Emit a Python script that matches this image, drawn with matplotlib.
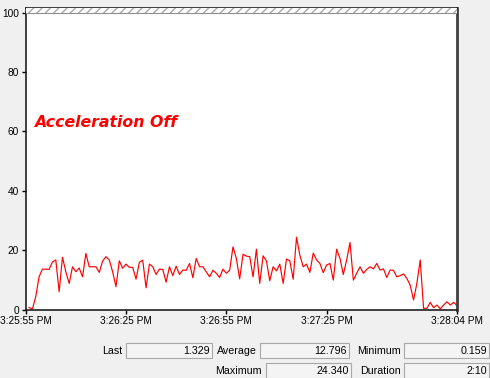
import numpy as np
import matplotlib
matplotlib.use("Agg")
import matplotlib.pyplot as plt
from matplotlib.patches import Rectangle

# --- counter samples (one per second, 3:25:55 PM start) ---
values = [
    0.7, 0.16, 4.3, 11.0, 13.6, 13.6, 13.5, 16.0, 16.7, 6.0,
    17.6, 12.7, 8.8, 14.4, 12.7, 14.0, 11.0, 18.9, 14.4, 14.4,
    14.4, 12.5, 16.3, 17.8, 16.7, 12.7, 7.7, 16.4, 13.9, 15.3,
    14.2, 14.2, 10.2, 15.9, 16.6, 7.3, 15.3, 14.4, 11.8, 13.6,
    13.5, 9.2, 14.4, 11.4, 14.6, 11.8, 13.3, 13.2, 15.5, 10.7,
    17.2, 14.4, 14.4, 12.7, 11.0, 13.2, 12.2, 10.8, 13.6, 12.2,
    13.2, 21.1, 17.2, 10.3, 18.6, 18.0, 17.8, 11.0, 20.3, 8.8,
    18.1, 16.4, 9.7, 14.4, 13.0, 15.3, 8.8, 17.0, 16.4, 10.2,
    24.34, 18.3, 14.4, 15.3, 12.5, 19.0, 16.7, 15.5, 12.4, 15.0,
    15.5, 9.9, 20.3, 17.2, 11.8, 16.7, 22.6, 9.9, 12.2, 14.4,
    12.2, 13.5, 14.4, 13.7, 15.5, 13.3, 13.7, 10.8, 13.3, 13.2,
    11.0, 11.4, 12.0, 10.5, 8.2, 3.2, 8.8, 16.7, 0.4, 0.4,
    2.4, 0.6, 1.5, 0.2, 1.5, 2.6, 1.5, 2.4, 1.329,
]
seconds = np.arange(1, len(values) + 1)

tick_secs = [0, 30, 60, 90, 129]
tick_labels = ["3:25:55 PM", "3:26:25 PM", "3:26:55 PM", "3:27:25 PM", "3:28:04 PM"]

stat_names = ["Last", "Average", "Minimum", "Maximum", "Duration"]
stat_values = ["1.329", "12.796", "0.159", "24.340", "2:10"]

W, H = 490, 378
BG = "#f0f0f0"
FONT = "Liberation Sans"
FS = 7.3

fig = plt.figure(figsize=(W / 100, H / 100), dpi=100, facecolor=BG)

# plot area in pixels
x0, x1, y_top, y_zero, y_hundred = 25.7, 457.0, 8.0, 309.5, 12.7
ax = fig.add_axes([x0 / W, (H - y_zero) / H, (x1 - x0) / W, (y_zero - y_top) / H])
ax.set_facecolor("white")
ymax = 100 * (y_zero - y_top) / (y_zero - y_hundred)

ax.plot(seconds, values, color="#ff0000", lw=0.85)

# hatched strip above 100
ax.add_patch(Rectangle((0, 100), 129, ymax - 100, facecolor="white",
                       edgecolor="#a8a8a8", hatch="////", lw=0, zorder=3))
ax.axhline(100, color="#909090", lw=0.8, zorder=4)

ax.set_xlim(0, 129)
ax.set_ylim(0, ymax)
ax.set_yticks([0, 20, 40, 60, 80, 100])
ax.set_xticks(tick_secs)
ax.set_xticklabels(tick_labels)
ax.tick_params(direction="out", length=3, width=1, labelsize=FS, pad=2,
               colors="black")
for lab in ax.get_xticklabels() + ax.get_yticklabels():
    lab.set_family(FONT)

for side in ["left", "bottom", "top"]:
    ax.spines[side].set_color("#202020")
    ax.spines[side].set_linewidth(1.2)
ax.spines["right"].set_color("#404040")
ax.spines["right"].set_linewidth(2)

ax.text(0.02, 0.62, "Acceleration Off", transform=ax.transAxes, color="#ff0000",
        fontsize=11.3, fontweight="bold", fontstyle="italic",
        family="DejaVu Sans", va="center", ha="left")


# --- statistics boxes under the chart ---
def px_rect(left, top, right, bottom):
    r = Rectangle((left / W, 1 - bottom / H), (right - left) / W, (bottom - top) / H,
                  transform=fig.transFigure, facecolor="#f4f4f4",
                  edgecolor="#a8a8a8", lw=0.8)
    fig.add_artist(r)


# (label right x, box left, box right, top, bottom)
boxes = [
    (122, 126, 212, 343, 358),
    (257, 260, 349, 343, 358),
    (401, 404, 489, 343, 358),
    (262, 266, 351, 363, 378),
    (401, 404, 489, 363, 378),
]
for name, val, (lx, bl, br, bt, bb) in zip(stat_names, stat_values, boxes):
    px_rect(bl, bt, br, bb)
    yc = 1 - (bt + bb) / 2 / H
    fig.text(lx / W, yc, name, ha="right", va="center", fontsize=FS + 0.4, family=FONT)
    fig.text((br - 2) / W, yc, val, ha="right", va="center", fontsize=FS + 0.4, family=FONT)

plt.savefig("out.png", dpi=100, facecolor=BG)
